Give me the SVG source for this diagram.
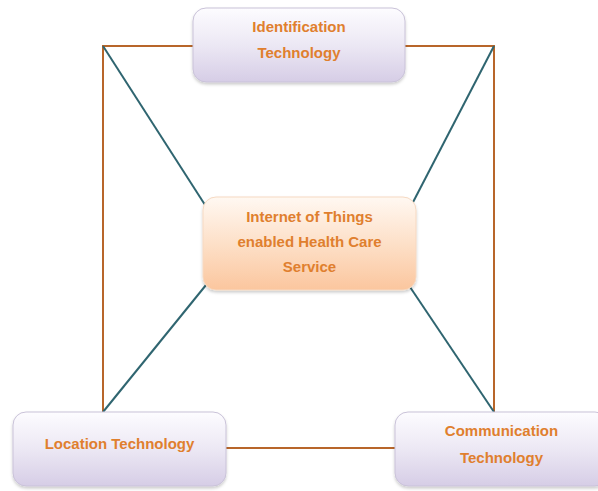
<svg xmlns="http://www.w3.org/2000/svg" width="598" height="491" viewBox="0 0 598 491">
<defs>
<linearGradient id="gPurple" x1="0" y1="0" x2="0" y2="1">
<stop offset="0" stop-color="#fdfcff"/>
<stop offset="0.5" stop-color="#ece8f4"/>
<stop offset="1" stop-color="#d6cde6"/>
</linearGradient>
<linearGradient id="gPeach" x1="0" y1="0" x2="0" y2="1">
<stop offset="0" stop-color="#fff8f2"/>
<stop offset="0.5" stop-color="#fde0c8"/>
<stop offset="1" stop-color="#fbc69e"/>
</linearGradient>
<filter id="sh" x="-10%" y="-10%" width="120%" height="130%">
<feDropShadow dx="0" dy="2" stdDeviation="1.5" flood-color="#000" flood-opacity="0.2"/>
</filter>
</defs>
<style>
.box{stroke:#c9c2d8;stroke-width:1;filter:url(#sh)}
.peach{stroke:#f6d9c2;stroke-width:1;filter:url(#sh)}
.t{font-family:"Liberation Sans",Arial,sans-serif;font-weight:bold;font-size:15px;fill:#e07f2e;text-anchor:middle}
.o{stroke:#b8662a;stroke-width:2;fill:none}
.d{stroke:#2f6570;stroke-width:2;fill:none}
</style>
<rect width="598" height="491" fill="#ffffff"/>
<g id="connectors">
<polyline class="o" points="193,46 103,46 103,412"/>
<polyline class="o" points="405,46 494,46 494,412"/>
<line class="o" x1="226" y1="448" x2="395" y2="448"/>
<line class="d" x1="103" y1="46" x2="207" y2="208"/>
<line class="d" x1="494" y1="46" x2="410" y2="208"/>
<line class="d" x1="206" y1="285" x2="103" y2="412"/>
<line class="d" x1="410" y1="287" x2="494" y2="412"/>
</g>
<g id="identification">
<rect class="box" x="193" y="8" width="212" height="74" rx="13" fill="url(#gPurple)"/>
<text class="t" x="299" y="32">Identification</text>
<text class="t" x="299" y="58">Technology</text>
</g>
<g id="center">
<rect class="peach" x="203" y="197" width="213" height="93" rx="13" fill="url(#gPeach)"/>
<text class="t" x="309.5" y="222">Internet of Things</text>
<text class="t" x="309.5" y="247">enabled Health Care</text>
<text class="t" x="309.5" y="272">Service</text>
</g>
<g id="location">
<rect class="box" x="13" y="412" width="213" height="74" rx="13" fill="url(#gPurple)"/>
<text class="t" x="119.5" y="449">Location Technology</text>
</g>
<g id="communication">
<rect class="box" x="395" y="412" width="213" height="74" rx="13" fill="url(#gPurple)"/>
<text class="t" x="501.5" y="436">Communication</text>
<text class="t" x="501.5" y="463">Technology</text>
</g>
</svg>
